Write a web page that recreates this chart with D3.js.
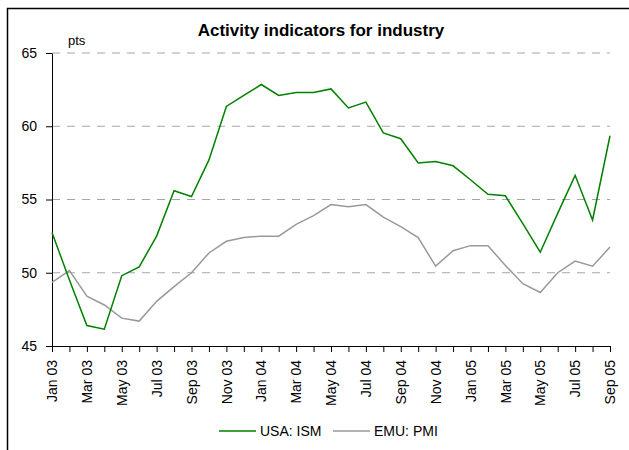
<!DOCTYPE html>
<html>
<head>
<meta charset="utf-8">
<script src="https://cdn.jsdelivr.net/npm/d3@7"></script>
<style>
  body { margin: 0; background: #fff; }
  svg { display: block; font-family: Arial, "Liberation Sans", sans-serif; }
</style>
</head>
<body>
<div id="grafico"></div>
<script>
const meses = ['Jan 03', 'Feb 03', 'Mar 03', 'Apr 03', 'May 03', 'Jun 03', 'Jul 03', 'Aug 03', 'Sep 03', 'Oct 03', 'Nov 03', 'Dec 03',
  'Jan 04', 'Feb 04', 'Mar 04', 'Apr 04', 'May 04', 'Jun 04', 'Jul 04', 'Aug 04', 'Sep 04', 'Oct 04', 'Nov 04', 'Dec 04',
  'Jan 05', 'Feb 05', 'Mar 05', 'Apr 05', 'May 05', 'Jun 05', 'Jul 05', 'Aug 05', 'Sep 05'];

const usaIsm = [52.75, 49.5, 46.4, 46.15, 49.8, 50.4, 52.5, 55.6, 55.2, 57.7, 61.35, 62.1,
  62.85, 62.1, 62.3, 62.3, 62.55, 61.25, 61.65, 59.55, 59.15, 57.5, 57.6, 57.3,
  56.35, 55.35, 55.25, 53.35, 51.4, 54.05, 56.65, 53.6, 59.35];

const emuPmi = [49.35, 50.15, 48.4, 47.8, 46.9, 46.7, 48.05, 49.05, 50.0, 51.35, 52.15, 52.4,
  52.5, 52.5, 53.3, 53.9, 54.65, 54.5, 54.65, 53.8, 53.15, 52.4, 50.45, 51.5,
  51.85, 51.85, 50.5, 49.25, 48.65, 50.0, 50.8, 50.45, 51.75];

const yTicks = [45, 50, 55, 60, 65];
const series = [
  { nombre: 'USA: ISM', valores: usaIsm, color: '#008000' },
  { nombre: 'EMU: PMI', valores: emuPmi, color: '#999999' }
];

const ancho = 629, alto = 450;
const margin = { top: 53, right: 19, bottom: 104, left: 52 };

const svg = d3.select('#grafico')
  .append('svg')
  .attr('width', ancho)
  .attr('height', alto);

// marco
svg.append('rect')
  .attr('x', 7.5).attr('y', 8.5)
  .attr('width', 700).attr('height', 600)
  .attr('fill', 'none')
  .attr('stroke', '#000')
  .attr('stroke-width', 1.5);

svg.append('text')
  .attr('x', 321)
  .attr('y', 36)
  .attr('text-anchor', 'middle')
  .style('font-size', '17px')
  .style('font-weight', 'bold')
  .text('Activity indicators for industry');

const x = d3.scalePoint()
  .domain(meses)
  .range([margin.left, ancho - margin.right]);

const y = d3.scaleLinear()
  .domain([45, 65])
  .range([alto - margin.bottom, margin.top]);

// lineas de cuadricula
svg.append('g')
  .selectAll('line')
  .data(yTicks.filter(d => d > 45))
  .enter().append('line')
  .attr('x1', margin.left)
  .attr('x2', ancho - margin.right)
  .attr('y1', d => y(d))
  .attr('y2', d => y(d))
  .attr('stroke', '#a6a6a6')
  .attr('stroke-width', 1.2)
  .attr('stroke-dasharray', '8,7');

svg.append('text')
  .attr('x', 68)
  .attr('y', 45)
  .style('font-size', '13px')
  .text('pts');

const ejeY = svg.append('g')
  .attr('transform', `translate(${margin.left},0)`)
  .call(d3.axisLeft(y).tickValues(yTicks).tickSize(6).tickSizeOuter(0).tickPadding(9));
ejeY.select('.domain').attr('stroke', '#000');
ejeY.selectAll('text')
  .style('font-size', '14px')
  .style('font-family', 'Arial, "Liberation Sans", sans-serif')
  .attr('fill', '#000');

const ejeX = svg.append('g')
  .attr('transform', `translate(0,${alto - margin.bottom})`)
  .call(d3.axisBottom(x).tickSize(6).tickSizeOuter(0)
    .tickFormat((d, i) => i % 2 === 0 ? d : ''));
ejeX.selectAll('text')
  .attr('transform', 'rotate(-90)')
  .attr('x', -14)
  .attr('y', 0)
  .attr('dy', '0.33em')
  .style('text-anchor', 'end')
  .style('font-size', '14px')
  .style('font-family', 'Arial, "Liberation Sans", sans-serif')
  .attr('fill', '#000');

const linea = d3.line()
  .x((d, i) => x(meses[i]))
  .y(d => y(d));

// EMU primero, USA encima
[series[1], series[0]].forEach(s => {
  svg.append('path')
    .datum(s.valores)
    .attr('d', linea)
    .attr('fill', 'none')
    .attr('stroke', s.color)
    .attr('stroke-width', 1.5);
});

// leyenda
const leyenda = svg.append('g');
const posLeyenda = [219, 333];
series.forEach((s, i) => {
  const g = leyenda.append('g').attr('transform', `translate(${posLeyenda[i]},431)`);
  g.append('line')
    .attr('x1', 0).attr('x2', 37)
    .attr('stroke', s.color)
    .attr('stroke-width', 1.5);
  g.append('text')
    .attr('x', 41)
    .attr('y', 5)
    .style('font-size', '14px')
    .text(s.nombre);
});
</script>
</body>
</html>
